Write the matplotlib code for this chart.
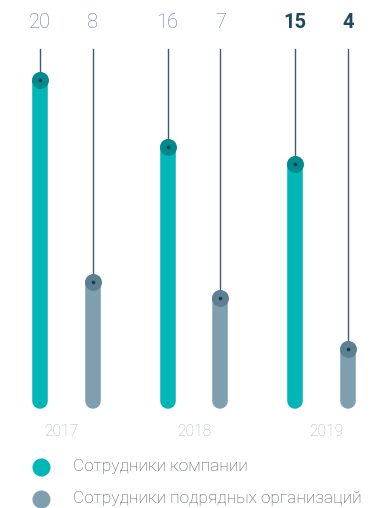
import matplotlib
matplotlib.use("Agg")
import matplotlib.pyplot as plt
import numpy as np

years = ["2017", "2018", "2019"]
staff = [20, 16, 15]
contractors = [8, 7, 4]
series_labels = ["Сотрудники компании", "Сотрудники подрядных организаций"]
bold_year = "2019"

TEAL = "#00b6b7"
TEAL_DARK = "#008a8e"
GREY = "#7f9fb0"
GREY_DARK = "#5c8093"
LINE = "#3a5e70"
DOT = "#1b3a4a"
VALUE_COLOR = "#5f7f8f"
VALUE_BOLD = "#1f4a5e"
YEAR_COLOR = "#a7b7c0"
TEXT_COLOR = "#4b5b66"

plt.rcParams["font.family"] = ["Roboto", "DejaVu Sans"]

W, H = 379, 508
fig = plt.figure(figsize=(W / 100, H / 100), dpi=100)

# main axes: value 0 sits 416 px from the top, 16.8 px per unit
ax = fig.add_axes([0, 92 / H, 1, 416 / H])
ax.set_ylim(0, 416 / 16.8)
ax.set_xlim(-66.5 / 127.5, (W - 66.5) / 127.5)
ax.axis("off")

offset = 26.5 / 127.5
base = 0.9
line_top = 21.85
label_y = 23.45
year_y = -0.95
year_shift = [-0.04, 0.0, 0.035]

x = np.arange(len(years))
for i, year in enumerate(years):
    bold = year == bold_year
    for xpos, val, col, dark in [
        (x[i] - offset, staff[i], TEAL, TEAL_DARK),
        (x[i] + offset, contractors[i], GREY, GREY_DARK),
    ]:
        ax.plot([xpos, xpos], [base, val], color=col, lw=11.2,
                solid_capstyle="round", zorder=2)
        ax.plot([xpos, xpos], [val, line_top], color=LINE, lw=1.0, zorder=3)
        ax.plot(xpos, val, "o", ms=12.2, color=dark, mew=0, zorder=4)
        ax.plot(xpos, val, "o", ms=2.6, color=DOT, mew=0, zorder=5)
        ax.text(xpos, label_y, str(val), ha="center", va="center",
                fontsize=14.5, color=VALUE_BOLD if bold else VALUE_COLOR,
                fontweight="bold" if bold else "light")
    ax.text(x[i] + year_shift[i], year_y, year, ha="center", va="center",
            fontsize=11.2, color=YEAR_COLOR, fontweight="light")

# legend drawn in pixel coordinates
lg = fig.add_axes([0, 0, 1, 1])
lg.set_xlim(0, W)
lg.set_ylim(H, 0)
lg.axis("off")
for ypos, col, label in [(467, TEAL, series_labels[0]), (499, GREY, series_labels[1])]:
    lg.plot(41, ypos, "o", ms=13, color=col, mew=0)
    lg.text(73, ypos, label, ha="left", va="center", fontsize=12.4,
            color=TEXT_COLOR, fontweight="light")

fig.savefig("out.png", dpi=100)
